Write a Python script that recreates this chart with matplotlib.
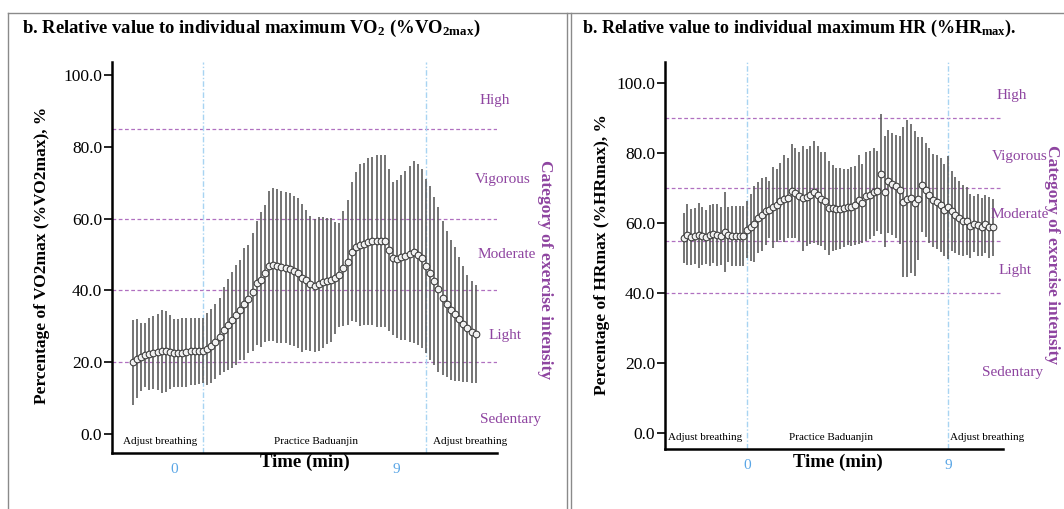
import numpy as np
import matplotlib
matplotlib.use("Agg")
import matplotlib.pyplot as plt
from matplotlib.lines import Line2D

plt.rcParams['font.family'] = ['Liberation Serif', 'DejaVu Serif']
plt.rcParams['mathtext.fontset'] = 'custom'
plt.rcParams['mathtext.rm'] = 'Liberation Serif:bold'
plt.rcParams['mathtext.bf'] = 'Liberation Serif:bold'
plt.rcParams['mathtext.it'] = 'Liberation Serif:italic:bold'

# time grid: one reading every 10 s, from -17/6 min to 11 min
time_min = np.arange(84) / 6 - 17 / 6

# %VO2max, mean and SD
vo2_mean = [20.0, 21.0, 21.5, 22.0, 22.3, 22.6, 22.8, 23.0, 23.0, 22.8, 22.6, 22.5, 22.6, 22.8, 23.0, 23.0, 23.1, 23.2,
            23.6, 24.5, 25.7, 27.1, 29.0, 30.4, 31.8, 33.1, 34.5, 36.2, 37.6, 39.6, 42.0, 42.9, 44.8, 46.8, 47.1, 46.8,
            46.6, 46.3, 45.9, 45.4, 44.8, 43.4,
            42.9, 41.8, 41.3, 41.8, 42.2, 42.6, 42.9, 43.4, 44.3, 46.1, 47.8, 50.8, 52.0, 52.6, 52.9, 53.6, 53.8, 53.8,
            53.8, 53.8, 51.3, 48.9, 48.7, 49.2, 49.7, 50.1, 50.6, 49.9, 48.9, 46.8, 44.8, 42.6, 40.3, 37.8, 36.2, 34.5,
            33.4, 32.0, 30.6, 29.4, 28.5, 27.9]
vo2_sd = [11.8, 10.9, 9.4, 9.0, 10.0, 10.2, 10.6, 11.6, 11.2, 10.4, 9.5, 9.4, 9.6, 9.6, 9.3, 9.3, 9.1, 9.0,
          10.0, 10.2, 10.5, 10.7, 11.8, 12.7, 13.3, 14.0, 14.0, 15.7, 15.1, 16.4, 17.3, 18.8, 19.1, 20.8, 21.3, 21.4,
          21.2, 21.1, 21.1, 20.9, 20.8, 20.7,
          19.6, 18.8, 18.6, 18.6, 18.3, 17.5, 17.3, 15.6, 14.4, 15.9, 17.5, 19.4, 20.9, 22.5, 22.6, 23.2, 23.4, 23.9,
          24.0, 24.0, 22.5, 21.3, 22.1, 23.0, 23.6, 24.6, 25.4, 25.2, 25.0, 24.2, 24.2, 23.4, 23.0, 21.4, 20.4, 19.5,
          18.6, 17.3, 16.2, 15.0, 14.2, 13.6]

# %HRmax, mean and SD
hr_mean = [55.8, 56.7, 56.0, 56.3, 56.5, 56.3, 56.0, 56.5, 56.9, 56.5, 56.4, 57.4, 56.7, 56.4, 56.3, 56.3, 56.3,
           58.1, 58.8, 59.7, 61.5, 62.4, 63.4, 63.8, 64.5, 65.1, 66.2, 67.0, 67.1, 69.2, 68.6, 67.6, 67.1, 67.3, 68.1,
           68.8, 67.9, 66.9, 66.2, 64.3, 64.2,
           64.0, 64.1, 64.3, 64.5, 64.7, 65.1, 66.7, 65.7, 67.6, 68.1, 68.8, 69.2, 74.0, 69.0, 71.9, 71.1, 70.5, 69.5,
           66.0, 67.0, 67.1, 65.7, 67.0, 70.9, 69.5, 67.9, 66.5, 66.0, 65.1, 63.8, 64.5, 63.4, 62.2, 61.5, 60.7, 60.7,
           59.1, 59.7, 59.4, 58.8, 59.7, 58.8, 58.8]
hr_sd = [7.2, 8.6, 8.0, 7.9, 9.3, 8.4, 7.7, 8.7, 8.4, 8.8, 8.3, 11.4, 7.9, 8.6, 8.5, 8.7, 8.6,
         8.2, 9.6, 10.8, 10.2, 10.5, 9.7, 8.1, 11.6, 10.4, 11.0, 12.4, 11.4, 13.4, 12.9, 12.6, 15.0, 13.8, 14.0,
         14.6, 14.1, 13.4, 14.0, 13.5, 12.3,
         11.7, 11.6, 11.2, 10.9, 11.3, 11.3, 12.7, 11.3, 12.7, 12.6, 12.6, 11.4, 17.1, 15.9, 14.8, 14.5, 14.7, 15.4,
         21.5, 22.5, 21.3, 20.7, 17.5, 13.6, 13.4, 13.5, 13.3, 13.5, 13.5, 13.1, 14.7, 11.4, 10.9, 10.5, 10.1, 9.7,
         9.2, 8.1, 8.8, 8.3, 8.3, 8.7, 8.2]

categories = ["High", "Vigorous", "Moderate", "Light", "Sedentary"]
vo2_cutoffs = [85, 60, 40, 20]
hr_cutoffs = [90, 70, 55, 40]
yticks = [0, 20, 40, 60, 80, 100]
phase_marks = [0, 9]
phases = ["Adjust breathing", "Practice Baduanjin", "Adjust breathing"]

W, H = 1064, 509
PURPLE = '#8e44a0'
DASH = '#b070c0'
BLUE = '#5aa6e6'


def fx(px):
    return px / W


def fy(py):
    return 1 - py / H


fig = plt.figure(figsize=(W / 100, H / 100), dpi=100)

# table frame around the two panels
for seg in [((8, W), (13, 13)), ((8, 8), (13, H)), ((567, 567), (13, H)), ((571, 571), (13, H))]:
    fig.add_artist(Line2D([fx(seg[0][0]), fx(seg[0][1])], [fy(seg[1][0]), fy(seg[1][1])],
                          color='#8a8a8a', lw=1.0))


def draw_panel(ax, mean, sd, cutoffs, ylim, xlim, cat_pos, phase_pos, tick_pos):
    ax.errorbar(time_min, mean, yerr=sd, fmt='o', ms=4.8, mfc='#f2f2f2', mec='#3a3a3a', mew=0.75,
                ecolor='#5c5c5c', elinewidth=1.2, capsize=0, zorder=3)
    for c in cutoffs:
        ax.axhline(c, color=DASH, ls=(0, (3, 2)), lw=0.9, zorder=1)
    for p in phase_marks:
        ax.axvline(p, color='#a8d4f2', ls=(0, (4, 1.5, 1, 1.5)), lw=1.0, zorder=1)
    ax.set_xlim(*xlim)
    ax.set_ylim(*ylim)
    ax.set_yticks(yticks)
    ax.set_yticklabels([f"{v:.1f}" for v in yticks], fontsize=12.5)
    ax.set_xticks([])
    ax.tick_params(axis='y', direction='out', length=6, width=1.2, pad=1)
    for s in ['top', 'right']:
        ax.spines[s].set_visible(False)
    for s in ['left', 'bottom']:
        ax.spines[s].set_linewidth(1.8)
    for name, (x, y) in zip(categories, cat_pos):
        ax.text(x, y, name, color=PURPLE, fontsize=11, ha='center', va='center', clip_on=False)
    for name, x in zip(phases, phase_pos):
        ax.text(x, ylim[0] + 3.2, name, fontsize=8, ha='center', va='center', clip_on=False)
    for lab, x in zip(phase_marks, tick_pos):
        ax.text(x, ylim[0] - 2.8, str(lab), color=BLUE, fontsize=11, ha='center', va='top', clip_on=False)


# left panel: %VO2max
ax1 = fig.add_axes([fx(112), fy(453), fx(385), 391 / H])
draw_panel(ax1, vo2_mean, vo2_sd, vo2_cutoffs, (-5.3, 103.6), (-3.67, 11.86),
           [(11.78, 93.0), (12.1, 71.0), (12.27, 50.1), (12.2, 27.3), (12.4, 3.9)],
           [-1.74, 4.56, 10.77], [-1.17, 7.8])

# right panel: %HRmax
ax2 = fig.add_axes([fx(665), fy(449), fx(338), 387 / H])
draw_panel(ax2, hr_mean, hr_sd, hr_cutoffs, (-4.55, 106.0), (-3.67, 11.46),
           [(11.87, 96.3), (12.2, 79.0), (12.2, 62.5), (12.0, 46.3), (11.87, 17.3)],
           [-1.88, 3.76, 10.75], [0, 9])

# titles
fig.text(fx(22), fy(28), r"b. Relative value to individual maximum VO$_2$ (%VO$_{\mathrm{2max}}$)",
         fontsize=13.4, fontweight='bold', va='center')
fig.text(fx(582), fy(28), r"b. Relative value to individual maximum HR (%HR$_{\mathrm{max}}$).",
         fontsize=13.0, fontweight='bold', va='center')

# axis labels
fig.text(fx(42), fy(255), "Percentage of VO2max (%VO2max), %", rotation=90, fontsize=12.5,
         fontweight='bold', ha='center', va='center')
fig.text(fx(602), fy(255), "Percentage of HRmax (%HRmax), %", rotation=90, fontsize=12.5,
         fontweight='bold', ha='center', va='center')
fig.text(fx(305), fy(462), "Time (min)", fontsize=13.5, fontweight='bold', ha='center', va='center')
fig.text(fx(838), fy(462), "Time (min)", fontsize=13.5, fontweight='bold', ha='center', va='center')
fig.text(fx(545), fy(270), "Category of exercise intensity", rotation=270, color=PURPLE, fontsize=12.5,
         fontweight='bold', ha='center', va='center')
fig.text(fx(1052), fy(255), "Category of exercise intensity", rotation=270, color=PURPLE, fontsize=12.5,
         fontweight='bold', ha='center', va='center')

fig.savefig("out.png", dpi=100)
